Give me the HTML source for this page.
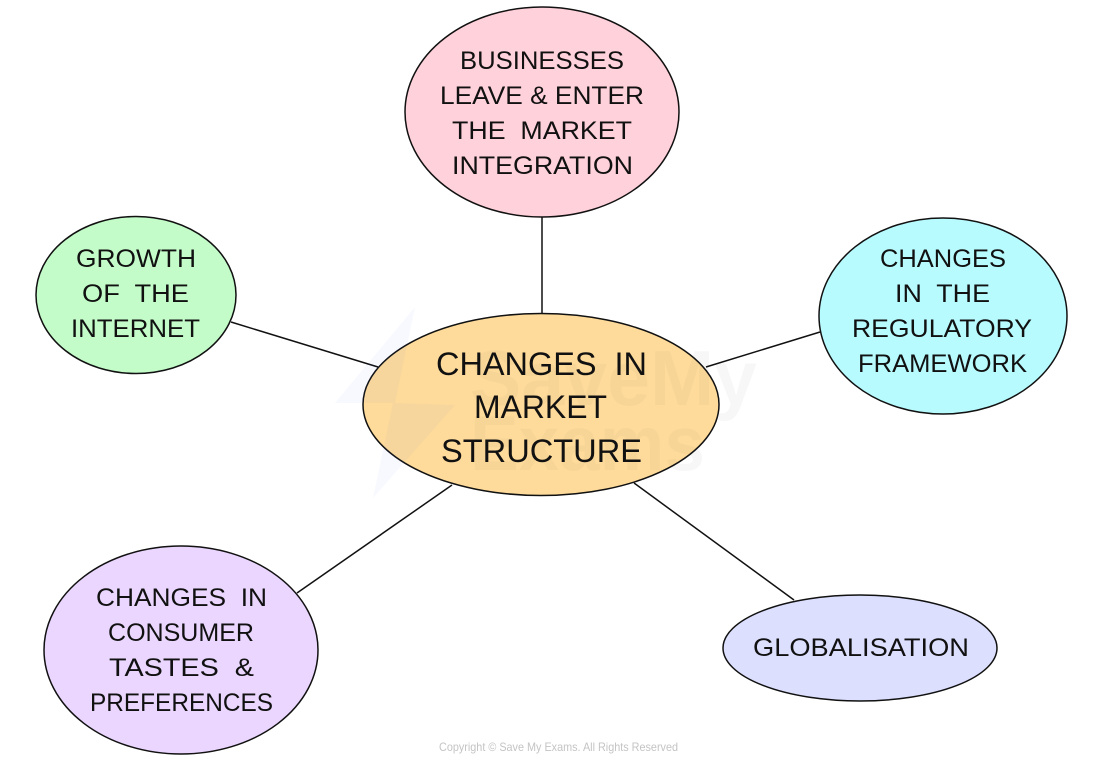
<!DOCTYPE html>
<html><head><meta charset="utf-8"><style>
html,body{margin:0;padding:0;background:#fff;width:1100px;height:764px;overflow:hidden}
svg{display:block}
text{font-family:"Liberation Sans",sans-serif;white-space:pre}
.l text{font-size:25px;fill:#111}
.c text{font-size:32px;fill:#111}
</style></head><body>
<svg width="1100" height="764" viewBox="0 0 1100 764" xmlns="http://www.w3.org/2000/svg">
<g stroke="#111" stroke-width="1.5">
<line x1="542" y1="217" x2="542" y2="313"/>
<line x1="231" y1="322" x2="378" y2="367"/>
<line x1="706" y1="367" x2="820" y2="332"/>
<line x1="297" y1="593" x2="452" y2="485"/>
<line x1="634" y1="483" x2="794" y2="600"/>
</g>
<g stroke="#111" stroke-width="1.5">
<ellipse cx="542" cy="112" rx="137" ry="105" fill="#ffd1db"/>
<ellipse cx="136" cy="295" rx="100" ry="78.5" fill="#c3fcc9"/>
<ellipse cx="943" cy="316" rx="124" ry="98" fill="#b8fbff"/>
<ellipse cx="541" cy="404.5" rx="178" ry="91" fill="#fedb9b"/>
<ellipse cx="181" cy="650" rx="137" ry="104" fill="#ead6fe"/>
<ellipse cx="860" cy="648" rx="137" ry="53" fill="#dcdffe"/>
</g>
<g opacity="0.04" fill="#3b5bdb">
<polygon points="415,307 335,403 393,403 373,498 455,405 395,403"/>
</g>
<g opacity="0.03" fill="#333" font-weight="bold">
<text x="470" y="405" font-size="78" textLength="287" lengthAdjust="spacingAndGlyphs">SaveMy</text>
<text x="470" y="470" font-size="78" textLength="235" lengthAdjust="spacingAndGlyphs">Exams</text>
</g>
<g class="l">
<text x="460" y="69" textLength="164" lengthAdjust="spacingAndGlyphs">BUSINESSES</text>
<text x="440" y="104" textLength="204" lengthAdjust="spacingAndGlyphs">LEAVE &amp; ENTER</text>
<text x="452" y="139" textLength="180" lengthAdjust="spacingAndGlyphs">THE  MARKET</text>
<text x="452" y="174" textLength="181" lengthAdjust="spacingAndGlyphs">INTEGRATION</text>
<text x="76" y="267" textLength="120" lengthAdjust="spacingAndGlyphs">GROWTH</text>
<text x="82" y="302" textLength="107" lengthAdjust="spacingAndGlyphs">OF  THE</text>
<text x="71" y="337" textLength="129" lengthAdjust="spacingAndGlyphs">INTERNET</text>
<text x="880" y="267" textLength="126" lengthAdjust="spacingAndGlyphs">CHANGES</text>
<text x="895" y="302" textLength="95" lengthAdjust="spacingAndGlyphs">IN  THE</text>
<text x="852" y="337" textLength="180" lengthAdjust="spacingAndGlyphs">REGULATORY</text>
<text x="858" y="372" textLength="169" lengthAdjust="spacingAndGlyphs">FRAMEWORK</text>
<text x="96" y="606" textLength="171" lengthAdjust="spacingAndGlyphs">CHANGES  IN</text>
<text x="108" y="641" textLength="146" lengthAdjust="spacingAndGlyphs">CONSUMER</text>
<text x="109" y="676" textLength="145" lengthAdjust="spacingAndGlyphs">TASTES  &amp;</text>
<text x="90" y="711" textLength="183" lengthAdjust="spacingAndGlyphs">PREFERENCES</text>
<text x="753" y="656" textLength="216" lengthAdjust="spacingAndGlyphs">GLOBALISATION</text>
</g>
<g class="c">
<text x="436" y="375" textLength="211" lengthAdjust="spacingAndGlyphs">CHANGES  IN</text>
<text x="474" y="418" textLength="133" lengthAdjust="spacingAndGlyphs">MARKET</text>
<text x="441" y="462" textLength="201" lengthAdjust="spacingAndGlyphs">STRUCTURE</text>
</g>
<text x="439" y="751" font-size="12" fill="#c4c4c4" textLength="239" lengthAdjust="spacingAndGlyphs">Copyright © Save My Exams. All Rights Reserved</text>
</svg>
</body></html>
